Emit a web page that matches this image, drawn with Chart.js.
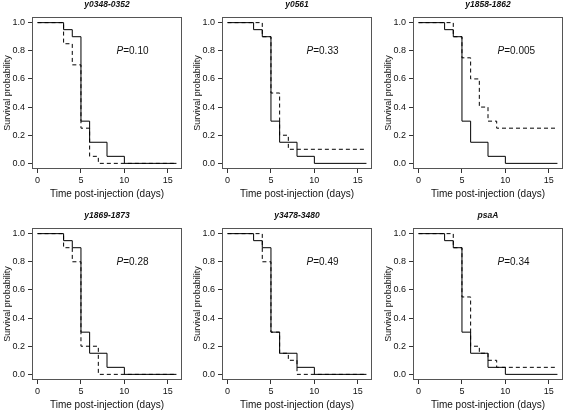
<!DOCTYPE html>
<html>
<head>
<meta charset="utf-8">
<script src="https://cdn.jsdelivr.net/npm/chart.js@4/dist/chart.umd.min.js"></script>
<style>
  html, body { margin: 0; padding: 0; background: #ffffff; }
  #wrap { position: relative; width: 567px; height: 411px; background: #fff; overflow: hidden; }
  .panel { position: absolute; width: 186px; height: 200px; }
  canvas { display: block; }
</style>
</head>
<body>
<div id="wrap"></div>
<script>
// ---------- DATA ----------
const titles = ['y0348-0352', 'y0561', 'y1858-1862', 'y1869-1873', 'y3478-3480', 'psaA'];
const pValues = ['0.10', '0.33', '0.005', '0.28', '0.49', '0.34'];
const xTicks = [0, 5, 10, 15];
const yTicks = [0, 0.2, 0.4, 0.6, 0.8, 1.0];

// Wild-type (solid) survival curve, same in every panel
const wildTypeTimes = [0, 3, 4, 5, 6, 8, 10, 16];
const wildTypeSurv  = [1, 0.95, 0.9, 0.3, 0.15, 0.05, 0, 0];

// Mutant (dashed) survival curves
const y0348Times = [0, 3, 4, 5, 6, 7, 16];
const y0348Surv  = [1, 0.85, 0.7, 0.25, 0.05, 0, 0];
const y0561Times = [0, 4, 5, 6, 7, 16];
const y0561Surv  = [1, 0.9, 0.5, 0.2, 0.1, 0.1];
const y1858Times = [0, 4, 5, 6, 7, 8, 9, 16];
const y1858Surv  = [1, 0.9, 0.75, 0.6, 0.4, 0.3, 0.25, 0.25];
const y1869Times = [0, 3, 4, 5, 7, 16];
const y1869Surv  = [1, 0.9, 0.8, 0.2, 0, 0];
const y3478Times = [0, 4, 5, 6, 7, 8, 16];
const y3478Surv  = [1, 0.8, 0.3, 0.15, 0.1, 0, 0];
const psaATimes  = [0, 4, 5, 6, 7, 8, 9, 16];
const psaASurv   = [1, 0.9, 0.55, 0.2, 0.15, 0.1, 0.05, 0.05];

const mutantTimes = [y0348Times, y0561Times, y1858Times, y1869Times, y3478Times, psaATimes];
const mutantSurv  = [y0348Surv, y0561Surv, y1858Surv, y1869Surv, y3478Surv, psaASurv];

// ---------- LAYOUT ----------
const panelX = [0, 190, 381];
const panelY = [0, 211];
const FONT = "'Liberation Sans', Arial, Helvetica, sans-serif";
const TXT = '#111';

const toXY = (ts, ss) => ts.map((t, i) => ({ x: t, y: ss[i] }));

const boxPlugin = {
  id: 'box',
  afterDatasetsDraw(chart) {
    const a = chart.chartArea, ctx = chart.ctx;
    ctx.save();
    ctx.strokeStyle = '#555';
    ctx.lineWidth = 1;
    ctx.strokeRect(Math.round(a.left) + 0.5, Math.round(a.top) + 0.5,
                   Math.round(a.right - a.left) - 1, Math.round(a.bottom - a.top) - 1);
    ctx.restore();
  }
};

const pPlugin = {
  id: 'pval',
  afterDatasetsDraw(chart, args, opts) {
    const ctx = chart.ctx;
    const x = chart.scales.x.getPixelForValue(opts.x);
    const y = chart.scales.y.getPixelForValue(opts.y);
    ctx.save();
    ctx.fillStyle = TXT;
    ctx.textBaseline = 'middle';
    ctx.textAlign = 'left';
    ctx.font = 'italic 10px ' + FONT;
    ctx.fillText('P', x, y);
    const w = ctx.measureText('P').width;
    ctx.font = '10px ' + FONT;
    ctx.fillText('=' + opts.text, x + w, y);
    ctx.restore();
  }
};

const wrap = document.getElementById('wrap');
titles.forEach((title, i) => {
  const col = i % 3, row = Math.floor(i / 3);
  const div = document.createElement('div');
  div.className = 'panel';
  div.style.left = panelX[col] + 'px';
  div.style.top = panelY[row] + 'px';
  const cv = document.createElement('canvas');
  cv.width = 186; cv.height = 200;
  cv.style.width = '186px'; cv.style.height = '200px';
  div.appendChild(cv);
  wrap.appendChild(div);

  new Chart(cv, {
    type: 'line',
    data: {
      datasets: [
        {
          data: toXY(mutantTimes[i], mutantSurv[i]),
          stepped: 'before',
          borderColor: '#000',
          borderWidth: 1,
          borderDash: [4, 3],
          pointRadius: 0,
          fill: false
        },
        {
          data: toXY(wildTypeTimes, wildTypeSurv),
          stepped: 'before',
          borderColor: '#000',
          borderWidth: 1,
          pointRadius: 0,
          fill: false
        }
      ]
    },
    options: {
      responsive: false,
      animation: false,
      devicePixelRatio: 1,
      layout: { padding: { left: 0, right: 4, top: 0, bottom: 0 } },
      plugins: {
        legend: { display: false },
        tooltip: { enabled: false },
        title: {
          display: true,
          text: title,
          fullSize: false,
          color: TXT,
          font: { family: FONT, size: 8.5, weight: 'bold', style: 'italic', lineHeight: 1.2 },
          padding: { top: 0, bottom: 6.8 }
        },
        pval: { x: 9.1, y: 0.8, text: pValues[i] }
      },
      scales: {
        x: {
          type: 'linear',
          min: -0.64, max: 16.64,
          afterBuildTicks: s => { s.ticks = xTicks.map(v => ({ value: v })); },
          afterFit: s => { s.height = 31; },
          border: { display: false },
          grid: { drawOnChartArea: false, drawTicks: true, tickLength: 4, color: '#333' },
          ticks: { color: TXT, font: { family: FONT, size: 9 }, padding: 2, maxRotation: 0,
                   callback: v => String(v) },
          title: { display: true, text: 'Time post-injection (days)', color: TXT,
                   font: { family: FONT, size: 10, lineHeight: 1.2 }, padding: 0 }
        },
        y: {
          type: 'linear',
          min: -0.04, max: 1.04,
          afterBuildTicks: s => { s.ticks = yTicks.map(v => ({ value: v })); },
          afterFit: s => { s.width = 32; },
          border: { display: false },
          grid: { drawOnChartArea: false, drawTicks: true, tickLength: 4, color: '#333' },
          ticks: { color: TXT, font: { family: FONT, size: 9 }, padding: 3,
                   callback: v => Number(v).toFixed(1) },
          title: { display: true, text: 'Survival probability', color: TXT,
                   font: { family: FONT, size: 9, lineHeight: 1.2 }, padding: { top: 2, bottom: 0 } }
        }
      }
    },
    plugins: [boxPlugin, pPlugin]
  });
});
</script>
</body>
</html>
